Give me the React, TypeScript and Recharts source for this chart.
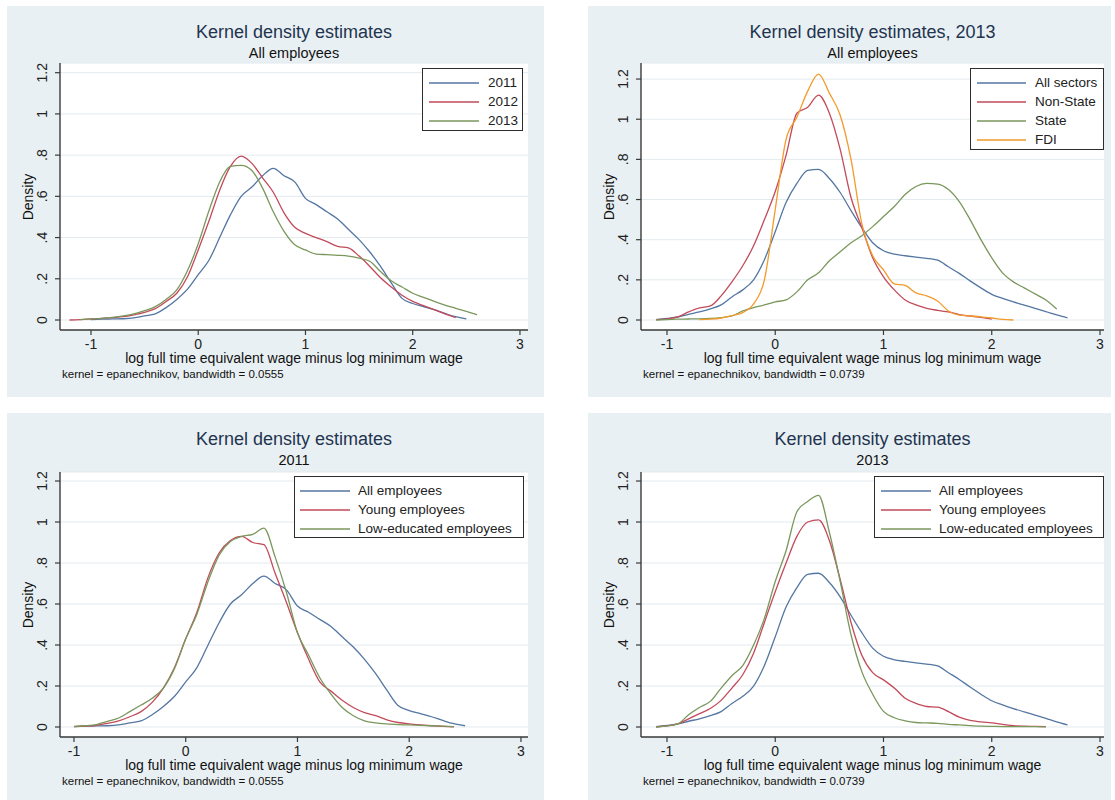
import React from 'react';
import { LineChart, Line, XAxis, YAxis, CartesianGrid } from 'recharts';

// ---------------- data ----------------
const wageGrid = [
  -1.2, -1.1, -1.0, -0.9, -0.8, -0.7, -0.6, -0.5, -0.4, -0.3, -0.2, -0.1,
  0.0, 0.1, 0.2, 0.3, 0.4, 0.5, 0.6, 0.7, 0.8, 0.9,
  1.0, 1.1, 1.2, 1.3, 1.4, 1.5, 1.6, 1.7, 1.8, 1.9,
  2.0, 2.1, 2.2, 2.3, 2.4, 2.5, 2.6, 2.7,
];
const wageTicks = [-1, 0, 1, 2, 3];
const densityTicks = [0, 0.2, 0.4, 0.6, 0.8, 1, 1.2];
const densityTickLabels = ['0', '.2', '.4', '.6', '.8', '1', '1.2'];

// Panel 1: all employees by year (bandwidth 0.0555)
const all2011Start = -1.0;
const all2011 = [
  0.002, 0.004, 0.005, 0.006, 0.01, 0.02, 0.03, 0.06, 0.1, 0.15,
  0.22, 0.29, 0.4, 0.51, 0.6, 0.645, 0.7, 0.736, 0.7, 0.67,
  0.59, 0.56, 0.525, 0.49, 0.44, 0.39, 0.33, 0.26, 0.18, 0.105,
  0.08, 0.065, 0.05, 0.032, 0.016, 0.006,
];
const all2012Start = -1.2;
const all2012 = [
  0.0, 0.002, 0.005, 0.008, 0.012, 0.016, 0.025, 0.037, 0.055, 0.09, 0.13, 0.21,
  0.34, 0.48, 0.63, 0.745, 0.795, 0.76, 0.69, 0.62, 0.52, 0.45,
  0.42, 0.4, 0.38, 0.357, 0.35, 0.31, 0.26, 0.205, 0.16, 0.12,
  0.09, 0.07, 0.05, 0.03, 0.012,
];
const all2013Start = -1.1;
const all2013 = [
  0.002, 0.005, 0.008, 0.013, 0.02, 0.03, 0.045, 0.065, 0.1, 0.146, 0.24,
  0.37, 0.53, 0.67, 0.745, 0.75, 0.725, 0.64, 0.525, 0.43, 0.365,
  0.34, 0.32, 0.317, 0.314, 0.31, 0.3, 0.285, 0.235, 0.19, 0.16,
  0.13, 0.11, 0.09, 0.072, 0.057, 0.042, 0.026,
];

// Panel 2: 2013 by sector (bandwidth 0.0739)
const sectorAllStart = -1.1;
const sectorAll = [
  0.002, 0.008, 0.015, 0.028, 0.04, 0.055, 0.075, 0.115, 0.15, 0.2, 0.3,
  0.44, 0.585, 0.68, 0.745, 0.75, 0.705, 0.635, 0.545, 0.46, 0.385,
  0.345, 0.328, 0.32, 0.313, 0.307, 0.298, 0.265, 0.232, 0.195, 0.16,
  0.128, 0.108, 0.09, 0.074, 0.058, 0.042, 0.025, 0.01,
];
const sectorNonStateStart = -1.1;
const sectorNonState = [
  0.002, 0.006, 0.015, 0.04, 0.06, 0.07, 0.12, 0.19, 0.27, 0.37, 0.5,
  0.64, 0.82, 1.03, 1.06, 1.12, 1.03, 0.85, 0.61, 0.46, 0.31,
  0.215, 0.15, 0.1, 0.075, 0.058, 0.048, 0.04, 0.027, 0.02, 0.013,
  0.005,
];
const sectorStateStart = -1.1;
const sectorState = [
  0.0, 0.002, 0.004, 0.005, 0.006, 0.008, 0.012, 0.02, 0.045, 0.062, 0.075,
  0.09, 0.1, 0.14, 0.2, 0.235, 0.295, 0.34, 0.385, 0.42, 0.465,
  0.515, 0.565, 0.625, 0.665, 0.68, 0.677, 0.65, 0.59, 0.5, 0.4,
  0.31, 0.235, 0.19, 0.16, 0.13, 0.1, 0.055,
];
const sectorFdiStart = -0.7;
const sectorFdi = [
  0.002, 0.004, 0.01, 0.022, 0.037, 0.08, 0.2,
  0.55, 0.9, 1.01, 1.14, 1.225, 1.13, 1.02, 0.8, 0.48, 0.32,
  0.25, 0.18, 0.172, 0.135, 0.12, 0.095, 0.045, 0.024, 0.02, 0.016,
  0.01, 0.003, 0.0,
];

// Panel 3: 2011 groups (bandwidth 0.0555)
const young2011Start = -1.0;
const young2011 = [
  0.002, 0.004, 0.008, 0.018, 0.03, 0.05, 0.075, 0.12, 0.19, 0.29,
  0.43, 0.56, 0.73, 0.85, 0.91, 0.93, 0.9, 0.89, 0.75, 0.61,
  0.46, 0.33, 0.22, 0.175, 0.13, 0.095, 0.07, 0.055, 0.035, 0.022,
  0.015, 0.01, 0.006, 0.003, 0.001,
];
const lowEdu2011Start = -1.0;
const lowEdu2011 = [
  0.003, 0.006, 0.012, 0.028, 0.044, 0.075, 0.107, 0.14, 0.19, 0.286,
  0.43, 0.55, 0.71, 0.84, 0.905, 0.93, 0.94, 0.97, 0.83, 0.66,
  0.46, 0.35, 0.24, 0.16, 0.095, 0.055, 0.03, 0.02, 0.015, 0.012,
  0.01, 0.008, 0.006, 0.004, 0.002,
];

// Panel 4: 2013 groups (bandwidth 0.0739)
const young2013Start = -1.1;
const young2013 = [
  0.0, 0.005, 0.015, 0.04, 0.065, 0.09, 0.13, 0.19, 0.255, 0.36, 0.51,
  0.66, 0.8, 0.93, 1.0, 1.01, 0.91, 0.72, 0.51, 0.35, 0.265,
  0.23, 0.19, 0.14, 0.115, 0.1, 0.097, 0.075, 0.048, 0.032, 0.025,
  0.02, 0.013, 0.006, 0.004, 0.003, 0.002,
];
const lowEdu2013Start = -1.1;
const lowEdu2013 = [
  0.0, 0.005, 0.015, 0.06, 0.095, 0.125, 0.19, 0.25, 0.3, 0.4, 0.53,
  0.71, 0.86, 1.05, 1.1, 1.13, 0.95, 0.71, 0.45, 0.27, 0.16,
  0.076, 0.045, 0.03, 0.022, 0.02, 0.018, 0.013, 0.01, 0.007, 0.004,
  0.003, 0.002, 0.002, 0.002, 0.002, 0.001,
];

// ---------------- styling ----------------
const FONT = '"Liberation Sans", Arial, Helvetica, sans-serif';
const BG = '#e9f0f3';
const BLUE = '#5476a2';
const RED = '#c24a5a';
const GREEN = '#7a975c';
const ORANGE = '#f39a2a';
const AXIS = '#3a3a3a';
const Y_AXIS_W = 30;
const X_AXIS_H = 30;

type Series = { key: string; name: string; color: string; start: number; values: number[] };
type Rect = { left: number; top: number; width: number; height: number };
type Plot = { left: number; top: number; right: number; bottom: number };
type LegendBox = { left: number; top: number; width: number; height: number; lineX1: number; lineX2: number; labelX: number };

function buildRows(grid: number[], series: Series[]) {
  return grid.map((x) => {
    const row: Record<string, number | null> = { x };
    series.forEach((s) => {
      const j = Math.round((x - s.start) * 10);
      row[s.key] = j >= 0 && j < s.values.length ? s.values[j] : null;
    });
    return row;
  });
}

const RotTick = (props: any) => {
  const { x, y, payload } = props;
  const idx = densityTicks.indexOf(payload.value);
  const label = idx >= 0 ? densityTickLabels[idx] : String(payload.value);
  return (
    <text
      x={x}
      y={y}
      transform={`rotate(-90 ${x} ${y})`}
      textAnchor="middle"
      fontSize={14}
      fontFamily={FONT}
      fill="#222"
    >
      {label}
    </text>
  );
};

type PanelProps = {
  box: Rect;
  plot: Plot;
  xDomain: [number, number];
  yDomain: [number, number];
  title: string;
  subtitle: string;
  note: string;
  legend: LegendBox;
  series: Series[];
};

function CenterText({ x, y, size, color, children }: any) {
  return (
    <div
      style={{
        position: 'absolute',
        left: x,
        top: y - size * 0.5,
        transform: 'translateX(-50%)',
        whiteSpace: 'nowrap',
        fontSize: size,
        lineHeight: `${size}px`,
        color,
      }}
    >
      {children}
    </div>
  );
}

function Panel(p: PanelProps) {
  const { box, plot, legend } = p;
  const rows = buildRows(wageGrid, p.series);
  const margin = {
    left: plot.left - box.left - Y_AXIS_W,
    top: plot.top - box.top,
    right: box.left + box.width - plot.right,
    bottom: box.top + box.height - plot.bottom - X_AXIS_H,
  };
  const cx = (plot.left + plot.right) / 2 - box.left;
  const plotTopRel = plot.top - box.top;
  const plotBottomRel = plot.bottom - box.top;
  const plotLeftRel = plot.left - box.left;
  return (
    <div
      style={{
        position: 'absolute',
        left: box.left,
        top: box.top,
        width: box.width,
        height: box.height,
        background: BG,
        fontFamily: FONT,
      }}
    >
      <CenterText x={cx} y={26} size={18} color="#22344f">{p.title}</CenterText>
      <CenterText x={cx} y={47.5} size={14.5} color="#111">{p.subtitle}</CenterText>
      <div style={{ position: 'absolute', left: 0, top: 0 }}>
        <LineChart width={box.width} height={box.height} data={rows} margin={margin}>
          <CartesianGrid vertical={false} stroke="#e3eaee" fill="#ffffff" />
          <XAxis
            type="number"
            dataKey="x"
            domain={p.xDomain}
            ticks={wageTicks}
            interval={0}
            allowDataOverflow
            height={X_AXIS_H}
            tickSize={5}
            tickMargin={4}
            tick={{ fontSize: 14, fill: '#222', fontFamily: FONT }}
            axisLine={{ stroke: AXIS, strokeWidth: 1.4 }}
            tickLine={{ stroke: AXIS, strokeWidth: 1.2 }}
          />
          <YAxis
            type="number"
            domain={p.yDomain}
            ticks={densityTicks}
            interval={0}
            allowDataOverflow
            width={Y_AXIS_W}
            tickSize={5}
            tickMargin={8}
            tick={RotTick}
            axisLine={{ stroke: AXIS, strokeWidth: 1.4 }}
            tickLine={{ stroke: AXIS, strokeWidth: 1.2 }}
          />
          {p.series.map((s) => (
            <Line
              key={s.key}
              dataKey={s.key}
              name={s.name}
              type="monotone"
              stroke={s.color}
              strokeWidth={1.3}
              dot={false}
              activeDot={false}
              connectNulls={false}
              isAnimationActive={false}
            />
          ))}
        </LineChart>
      </div>
      <div
        style={{
          position: 'absolute',
          left: plotLeftRel - 32,
          top: (plotTopRel + plotBottomRel) / 2,
          transform: 'translate(-50%, -50%) rotate(-90deg)',
          fontSize: 14,
          lineHeight: '14px',
          color: '#111',
          whiteSpace: 'nowrap',
        }}
      >
        Density
      </div>
      <CenterText x={cx} y={plotBottomRel + 28} size={14} color="#111">
        log full time equivalent wage minus log minimum wage
      </CenterText>
      <div
        style={{
          position: 'absolute',
          left: plotLeftRel + 2,
          top: plotBottomRel + 44 - 6,
          fontSize: 11.5,
          lineHeight: '12px',
          color: '#111',
          whiteSpace: 'nowrap',
        }}
      >
        {p.note}
      </div>
      <div
        style={{
          position: 'absolute',
          left: legend.left - box.left,
          top: legend.top - box.top,
          width: legend.width,
          height: legend.height,
          boxSizing: 'border-box',
          border: '1.5px solid #2c2c2c',
          background: '#ffffff',
        }}
      >
        {p.series.map((s, i) => {
          const cy = 13.5 + i * 19;
          return (
            <React.Fragment key={s.key}>
              <svg
                style={{ position: 'absolute', left: legend.lineX1 - legend.left, top: cy - 3 }}
                width={legend.lineX2 - legend.lineX1}
                height={6}
              >
                <line x1={0} y1={3} x2={legend.lineX2 - legend.lineX1} y2={3} stroke={s.color} strokeWidth={1.5} />
              </svg>
              <div
                style={{
                  position: 'absolute',
                  left: legend.labelX - legend.left,
                  top: cy - 8.5,
                  fontSize: 13.5,
                  lineHeight: '17px',
                  color: '#222',
                  whiteSpace: 'nowrap',
                }}
              >
                {s.name}
              </div>
            </React.Fragment>
          );
        })}
      </div>
    </div>
  );
}

const panel1Series: Series[] = [
  { key: 'y2011', name: '2011', color: BLUE, start: all2011Start, values: all2011 },
  { key: 'y2012', name: '2012', color: RED, start: all2012Start, values: all2012 },
  { key: 'y2013', name: '2013', color: GREEN, start: all2013Start, values: all2013 },
];
const panel2Series: Series[] = [
  { key: 'all', name: 'All sectors', color: BLUE, start: sectorAllStart, values: sectorAll },
  { key: 'nonstate', name: 'Non-State', color: RED, start: sectorNonStateStart, values: sectorNonState },
  { key: 'state', name: 'State', color: GREEN, start: sectorStateStart, values: sectorState },
  { key: 'fdi', name: 'FDI', color: ORANGE, start: sectorFdiStart, values: sectorFdi },
];
const panel3Series: Series[] = [
  { key: 'all', name: 'All employees', color: BLUE, start: all2011Start, values: all2011 },
  { key: 'young', name: 'Young employees', color: RED, start: young2011Start, values: young2011 },
  { key: 'lowedu', name: 'Low-educated employees', color: GREEN, start: lowEdu2011Start, values: lowEdu2011 },
];
const panel4Series: Series[] = [
  { key: 'all', name: 'All employees', color: BLUE, start: sectorAllStart, values: sectorAll },
  { key: 'young', name: 'Young employees', color: RED, start: young2013Start, values: young2013 },
  { key: 'lowedu', name: 'Low-educated employees', color: GREEN, start: lowEdu2013Start, values: lowEdu2013 },
];

export default function App() {
  return (
    <div style={{ position: 'absolute', left: 0, top: 0, width: 1115, height: 800, background: '#ffffff', overflow: 'hidden' }}>
      <Panel
        box={{ left: 7, top: 6, width: 537, height: 391 }}
        plot={{ left: 60, top: 63, right: 528, bottom: 330 }}
        xDomain={[-1.289, 3.075]}
        yDomain={[-0.0485, 1.247]}
        title="Kernel density estimates"
        subtitle="All employees"
        note="kernel = epanechnikov, bandwidth = 0.0555"
        legend={{ left: 422, top: 68, width: 101, height: 63, lineX1: 428, lineX2: 478, labelX: 487 }}
        series={panel1Series}
      />
      <Panel
        box={{ left: 588, top: 6, width: 523, height: 391 }}
        plot={{ left: 641, top: 63, right: 1104, bottom: 330 }}
        xDomain={[-1.24, 3.037]}
        yDomain={[-0.0498, 1.28]}
        title="Kernel density estimates, 2013"
        subtitle="All employees"
        note="kernel = epanechnikov, bandwidth = 0.0739"
        legend={{ left: 970, top: 68, width: 134, height: 82, lineX1: 976, lineX2: 1025, labelX: 1034 }}
        series={panel2Series}
      />
      <Panel
        box={{ left: 7, top: 413, width: 537, height: 387 }}
        plot={{ left: 60, top: 472, right: 528, bottom: 737 }}
        xDomain={[-1.125, 3.063]}
        yDomain={[-0.0488, 1.244]}
        title="Kernel density estimates"
        subtitle="2011"
        note="kernel = epanechnikov, bandwidth = 0.0555"
        legend={{ left: 294, top: 476, width: 230, height: 62, lineX1: 299, lineX2: 349, labelX: 357 }}
        series={panel3Series}
      />
      <Panel
        box={{ left: 588, top: 413, width: 523, height: 387 }}
        plot={{ left: 641, top: 472, right: 1104, bottom: 737 }}
        xDomain={[-1.24, 3.037]}
        yDomain={[-0.0488, 1.244]}
        title="Kernel density estimates"
        subtitle="2013"
        note="kernel = epanechnikov, bandwidth = 0.0739"
        legend={{ left: 874, top: 476, width: 230, height: 62, lineX1: 880, lineX2: 930, labelX: 938 }}
        series={panel4Series}
      />
    </div>
  );
}
